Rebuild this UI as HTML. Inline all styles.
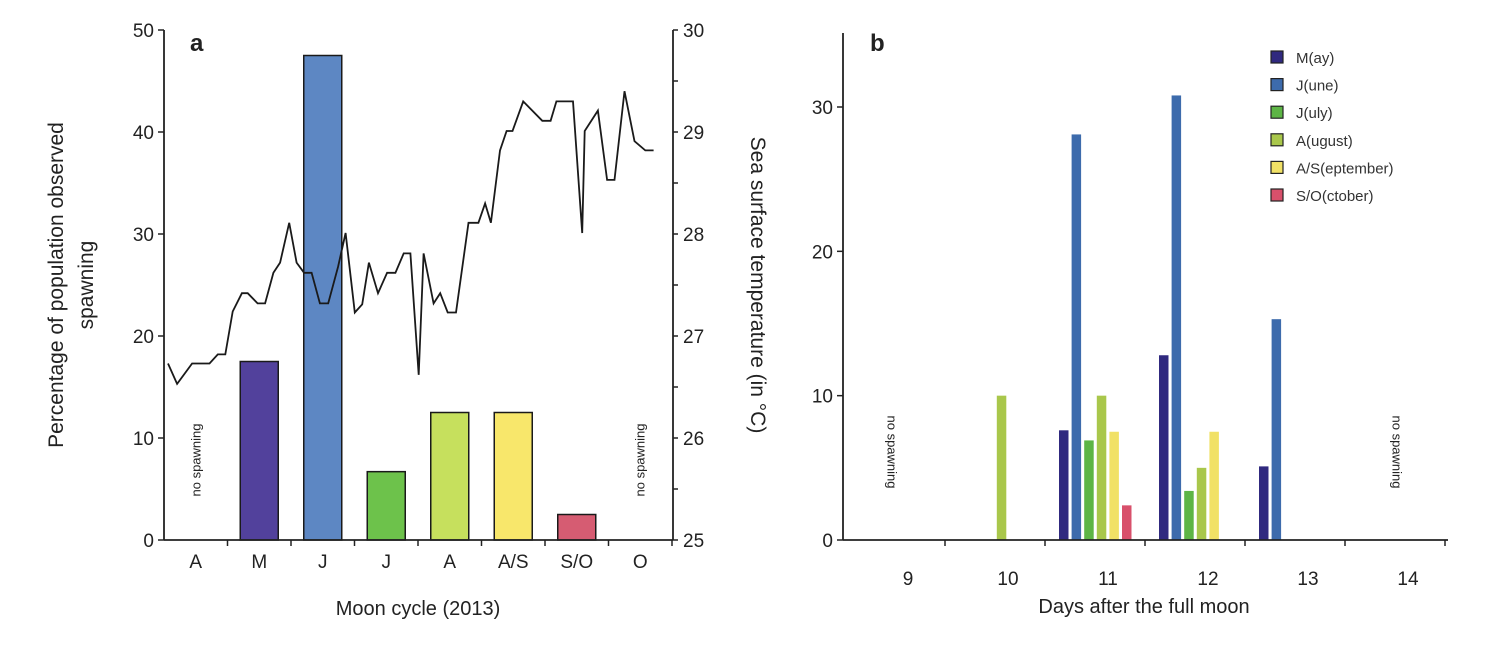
<!DOCTYPE html>
<html><head><meta charset="utf-8"><style>
body{margin:0;background:#fff;}
svg{display:block;font-family:"Liberation Sans",Arial,sans-serif;}
</style></head><body>
<svg id="chart" width="1498" height="646" viewBox="0 0 1498 646">
<rect width="1498" height="646" fill="#fff"/>
<g id="pa"></g>
<g id="pb"></g>
</svg>
<script>
// Panel a data
const monthCats = ["A","M","J","J","A","A/S","S/O","O"];
const monthPct = [0,17.5,47.5,6.7,12.5,12.5,2.5,0];
const monthColors = ["#fff","#52419c","#5d87c3","#6dc24b","#c6e05d","#f8e76b","#d65c72"];
const sstDays = [0,1.1,2.9,5,6,6.9,7.8,8.9,9.6,10.8,11.7,12.7,13.5,14.6,15.5,16.4,17.3,18.3,19.3,20.5,21.4,22.5,23.4,24.2,25.3,26.4,27.4,28.4,29.2,30.2,30.8,32,32.8,33.7,34.7,36.2,37.4,38.2,38.9,40,40.8,41.5,42.8,45.1,46.1,46.8,48.8,49.9,50.2,51.8,52.9,53.8,55,56.2,57.5,58.5];
const sstTemp = [26.73,26.53,26.73,26.73,26.82,26.82,27.24,27.42,27.42,27.32,27.32,27.62,27.72,28.11,27.72,27.62,27.62,27.32,27.32,27.68,28.01,27.23,27.31,27.72,27.42,27.62,27.62,27.81,27.81,26.62,27.81,27.32,27.42,27.23,27.23,28.11,28.11,28.3,28.11,28.82,29.01,29.01,29.3,29.11,29.11,29.3,29.3,28.01,29.01,29.21,28.53,28.53,29.4,28.91,28.82,28.82];
const pctTicks = [0,10,20,30,40,50];
const tempTicks = [25,26,27,28,29,30];
// Panel b data
const dayCats = [9,10,11,12,13,14];
const seriesNames = ["M(ay)","J(une)","J(uly)","A(ugust)","A/S(eptember)","S/O(ctober)"];
const seriesColors = ["#30297f","#3d6bac","#5db545","#a9c74b","#f1e166","#d8506b"];
const sMay = [0,0,7.6,12.8,5.1,0];
const sJune = [0,0,28.1,30.8,15.3,0];
const sJuly = [0,0,6.9,3.4,0,0];
const sAug = [0,10,10,5,0,0];
const sAS = [0,0,7.5,7.5,0,0];
const sSO = [0,0,2.4,0,0,0];
const bTicks = [0,10,20,30];

const NS="http://www.w3.org/2000/svg";
function mk(p,t,a){const e=document.createElementNS(NS,t);for(const k in a)e.setAttribute(k,a[k]);p.appendChild(e);return e;}
const pa=document.getElementById('pa'), pb=document.getElementById('pb');

// ---- panel a ----
const aL=164,aR=673,aB=540,aT=30,band=63.5;
const yA=v=>aB-(v/50)*(aB-aT);
const yT=v=>aB-((v-25)/5)*(aB-aT);
const xDay=d=>168+d*8.3;
monthCats.forEach((c,i)=>{
  const cx=aL+band*(i+0.5);
  if(monthPct[i]>0){
    const r=mk(pa,'rect',{x:cx-19,y:yA(monthPct[i]),width:38,height:aB-yA(monthPct[i]),fill:monthColors[i],stroke:'#1a1a1a','stroke-width':1.5});
    
    
  }
  const t=mk(pa,'text',{x:cx,y:568,'font-size':19,'text-anchor':'middle',fill:'#222'});t.textContent=c;
  
  
  mk(pa,'line',{x1:aL+band*(i+1),x2:aL+band*(i+1),y1:aB,y2:aB+6,stroke:'#222','stroke-width':1.5});
});
let d='';sstDays.forEach((v,i)=>{d+=(i?'L':'M')+xDay(v).toFixed(1)+','+yT(sstTemp[i]).toFixed(1);});
const ln=mk(pa,'path',{d:d,fill:'none',stroke:'#1a1a1a','stroke-width':1.8});


mk(pa,'line',{x1:aL,x2:aL,y1:aT,y2:aB,stroke:'#222','stroke-width':1.8});
mk(pa,'line',{x1:aL,x2:aR,y1:aB,y2:aB,stroke:'#222','stroke-width':1.8});
mk(pa,'line',{x1:aR,x2:aR,y1:aT,y2:aB,stroke:'#222','stroke-width':1.8});
pctTicks.forEach(v=>{mk(pa,'line',{x1:aL-6,x2:aL,y1:yA(v),y2:yA(v),stroke:'#222','stroke-width':1.5});
  const t=mk(pa,'text',{x:aL-10,y:yA(v)+7,'font-size':19,'text-anchor':'end',fill:'#222'});t.textContent=v;
  
  });
for(let v=25;v<=30;v+=0.5){mk(pa,'line',{x1:aR,x2:aR+5,y1:yT(v),y2:yT(v),stroke:'#222','stroke-width':1.5});}
tempTicks.forEach(v=>{const t=mk(pa,'text',{x:aR+10,y:yT(v)+7,'font-size':19,fill:'#222'});t.textContent=v;
  
  });

// ---- panel b ----
const bL=843,bR=1448,bB=540,bT=33;
const yB=v=>bB-(v/30)*(bB-107);
const seriesVals=[sMay,sJune,sJuly,sAug,sAS,sSO];
const groupStart=day=>959+100*(day-10);
dayCats.forEach((day,di)=>{
  seriesVals.forEach((arr,si)=>{
    const v=arr[di]; if(!v) return;
    const r=mk(pb,'rect',{x:groupStart(day)+si*12.6,y:yB(v),width:9.5,height:bB-yB(v),fill:seriesColors[si]});
    
    
  });
  const t=mk(pb,'text',{x:908+100*di,y:585,'font-size':19,'text-anchor':'middle',fill:'#222'});t.textContent=day;
  
  
  mk(pb,'line',{x1:945+100*di,x2:945+100*di,y1:bB,y2:bB+6,stroke:'#222','stroke-width':1.5});
});
mk(pb,'line',{x1:bL,x2:bL,y1:bT,y2:bB,stroke:'#222','stroke-width':1.8});
mk(pb,'line',{x1:bL,x2:bR,y1:bB,y2:bB,stroke:'#222','stroke-width':1.8});
bTicks.forEach(v=>{mk(pb,'line',{x1:bL-6,x2:bL,y1:yB(v),y2:yB(v),stroke:'#222','stroke-width':1.5});
  const t=mk(pb,'text',{x:bL-10,y:yB(v)+7,'font-size':19,'text-anchor':'end',fill:'#222'});t.textContent=v;
  
  });
seriesNames.forEach((n,i)=>{
  const y=57+27.6*i;
  const g=mk(pb,'g',{});
  
  
  mk(g,'rect',{x:1271,y:y-6,width:12,height:12,fill:seriesColors[i],stroke:'#222','stroke-width':1.2});
  const t=mk(g,'text',{x:1296,y:y+6,'font-size':15,fill:'#333'});t.textContent=n;
});
</script>
<svg width="0" height="0"></svg>
<div style="position:absolute;left:0;top:0;width:1498px;height:646px;pointer-events:none;font-family:'Liberation Sans',Arial,sans-serif;color:#222;">
  <div style="position:absolute;left:190px;top:30px;font-size:24px;font-weight:bold;">a</div>
  <div style="position:absolute;left:870px;top:30px;font-size:24px;font-weight:bold;">b</div>
  <div style="position:absolute;left:72px;top:285px;width:500px;transform:translate(-50%,-50%) rotate(-90deg);text-align:center;font-size:21px;line-height:30px;">Percentage of population observed<br>spawning</div>
  <div style="position:absolute;left:757px;top:285px;width:500px;transform:translate(-50%,-50%) rotate(90deg);text-align:center;font-size:21px;">Sea surface temperature (in °C)</div>
  <div style="position:absolute;left:418px;top:598px;transform:translateX(-50%);font-size:20px;white-space:nowrap;">Moon cycle (2013)</div>
  <div style="position:absolute;left:1144px;top:596px;transform:translateX(-50%);font-size:20px;white-space:nowrap;">Days after the full moon</div>
  <div style="position:absolute;left:196px;top:460px;transform:translate(-50%,-50%) rotate(-90deg);font-size:13px;white-space:nowrap;">no spawning</div>
  <div style="position:absolute;left:640px;top:460px;transform:translate(-50%,-50%) rotate(-90deg);font-size:13px;white-space:nowrap;">no spawning</div>
  <div style="position:absolute;left:892px;top:452px;transform:translate(-50%,-50%) rotate(90deg);font-size:13px;white-space:nowrap;">no spawning</div>
  <div style="position:absolute;left:1397px;top:452px;transform:translate(-50%,-50%) rotate(90deg);font-size:13px;white-space:nowrap;">no spawning</div>
</div>
</body></html>
